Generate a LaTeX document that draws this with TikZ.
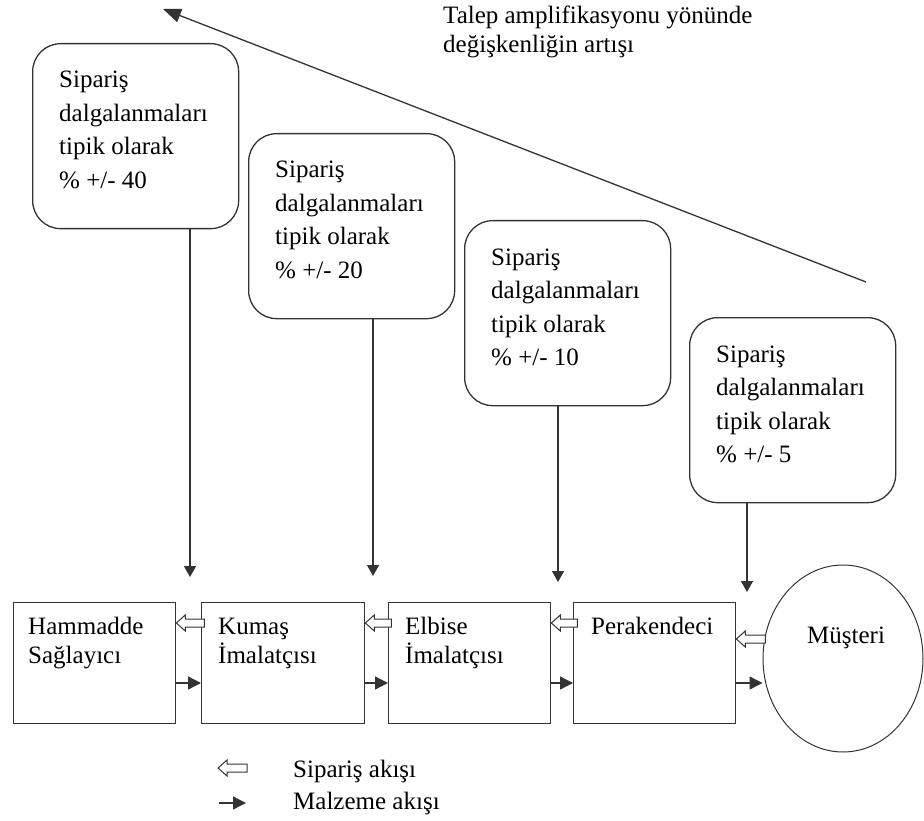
\documentclass[tikz,border=0pt]{standalone}
\usepackage{fontspec}
\setmainfont{Liberation Serif}
\usetikzlibrary{arrows.meta,shapes.geometric,calc}

% multi-line nodes sit on the baseline of their last line
\tikzset{
  ln/.style={draw=black!80, line width=1.3pt},
  txt/.style={anchor=base west, inner sep=0pt, align=left,
    font=\fontsize{25}{29}\selectfont},
  notetxt/.style={txt, font=\fontsize{25}{33.5}\selectfont},
  notebox/.style={ln, rounded corners=28pt, minimum width=206pt,
    minimum height=185pt, inner sep=0pt, anchor=north west},
  stage/.style={ln, minimum width=162pt, minimum height=121pt,
    inner sep=0pt, anchor=north west},
  matflow/.style={ln, -{Triangle[length=13pt,width=13pt]}},
  downflow/.style={ln, -{Triangle[length=11pt,width=12pt]}},
  trend/.style={ln, -{Triangle[length=18pt,width=14pt]}},
  pics/orderflow/.style={code={
    \draw[ln, line width=1pt, fill=white] (0,0) -- (9,-8) -- (9,-4) -- (#1,-4)
      -- (#1,4) -- (9,4) -- (9,8) -- cycle;}}
}

\begin{document}
\begin{tikzpicture}[x=1pt, y=-1pt]
\useasboundingbox (0,0) rectangle (924,821);

% trend arrow and caption
\coordinate (trendS) at (866,282);
\coordinate (trendE) at (163,9);
\draw[trend] (trendS) -- (trendE);
\node[txt] (cap) at (443,53) {Talep amplifikasyonu yönünde\\değişkenliğin artışı};

% order fluctuation notes
\node[notebox] (b1) at (32,43) {};
\node[notebox] (b2) at (248,133) {};
\node[notebox] (b3) at (464,220) {};
\node[notebox] (b4) at (689,317) {};
\foreach \b/\v in {b1/40, b2/20, b3/10, b4/5}
  \node[notetxt] (t\b) at ($(\b.north west)+(27,145.5)$)
    {Sipariş\\dalgalanmaları\\tipik olarak\\\% +/- \v};

% supply chain stages
\node[stage] (hs) at (13,602) {};
\node[stage, minimum width=163pt] (km) at (201,602) {};
\node[stage] (el) at (388,602) {};
\node[stage] (pk) at (573,602) {};
\node[ellipse, ln, line width=1pt, minimum width=160pt, minimum height=187pt,
  inner sep=0pt] (mu) at (843,658.5) {};

\node[txt] (ths) at ($(hs.north west)+(15,61)$) {Hammadde\\Sağlayıcı};
\node[txt] (tkm) at ($(km.north west)+(17,61)$) {Kumaş\\İmalatçısı};
\node[txt] (tel) at ($(el.north west)+(17,61)$) {Elbise\\İmalatçısı};
\node[txt] (tpk) at ($(pk.north west)+(18,32)$) {Perakendeci};
\node[txt] (tmu) at (807,643) {Müşteri};

% arrows from notes down to the stages
\coordinate (d1) at (190,577);
\coordinate (d2) at (373,576);
\coordinate (d3) at (558,582);
\coordinate (d4) at (747,592);
\draw[downflow] (d1 |- b1.south) -- (d1);
\draw[downflow] (d2 |- b2.south) -- (d2);
\draw[downflow] (d3 |- b3.south) -- (d3);
\draw[downflow] (d4 |- b4.south) -- (d4);

% order flow (hollow) and material flow (filled)
\pic at ($(hs.north east)+(0,21)$) {orderflow=28};
\pic at ($(km.north east)+(0,21)$) {orderflow=26};
\pic at ($(el.north east)+(0,21)$) {orderflow=26};
\pic at ($(pk.north east)+(0,37)$) {orderflow=29};

\draw[matflow] ($(hs.north east)+(0,81)$) -- ($(km.north west)+(0,81)$);
\draw[matflow] ($(km.north east)+(0,81)$) -- ($(el.north west)+(0,81)$);
\draw[matflow] ($(el.north east)+(0,81)$) -- ($(pk.north west)+(0,81)$);
\draw[matflow] ($(pk.north east)+(0,81)$) -- (mu.west |- 0,683);

% legend
\pic at (218,768) {orderflow=29};
\coordinate (lgA) at (219,803);
\coordinate (lgB) at (246,803);
\draw[matflow] (lgA) -- (lgB);
\node[txt] (lg1) at (293,777) {Sipariş akışı};
\node[txt] (lg2) at (293,809) {Malzeme akışı};
\end{tikzpicture}
\end{document}
